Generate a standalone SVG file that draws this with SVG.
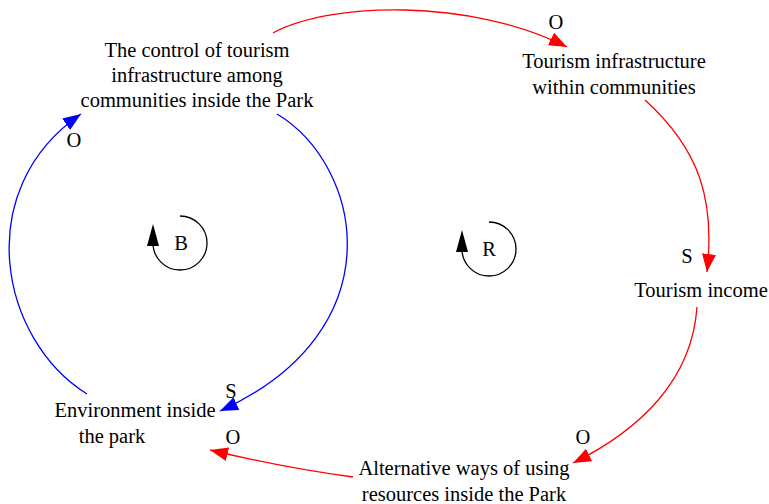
<svg xmlns="http://www.w3.org/2000/svg" width="769" height="504" viewBox="0 0 769 504">
<defs>
<style>
text{font-family:"Liberation Serif","Times New Roman",serif;font-size:20.5px;fill:#000;text-anchor:middle}
.red{fill:none;stroke:#ff0000;stroke-width:1.3}
.blue{fill:none;stroke:#0000ff;stroke-width:1.3}
.loop{fill:none;stroke:#000;stroke-width:1.3}
</style>
<marker id="ar" markerUnits="userSpaceOnUse" markerWidth="20" markerHeight="14" refX="18" refY="7" orient="auto"><path d="M0,0 L18,7 L0,14 Z" fill="#ff0000"/></marker>
<marker id="ab" markerUnits="userSpaceOnUse" markerWidth="20" markerHeight="14" refX="18" refY="7" orient="auto"><path d="M0,0 L18,7 L0,14 Z" fill="#0000ff"/></marker>
</defs>
<rect width="769" height="504" fill="#fff"/>
<g id="connectors">
<path class="red" d="M273,33 C330,2 470,-2 567,47" marker-end="url(#ar)"/>
<path class="red" d="M645,100 C700,150 715,200 707,272" marker-end="url(#ar)"/>
<path class="red" d="M697,307 C692,380 640,430 573,463" marker-end="url(#ar)"/>
<path class="red" d="M353,477 C300,470 260,462 210,450" marker-end="url(#ar)"/>
<path class="blue" d="M277,114 C362,165 398,330 220,411" marker-end="url(#ab)"/>
<path class="blue" d="M87,394 C0,340 -30,190 81,114" marker-end="url(#ab)"/>
</g>
<g id="loopB">
<path class="loop" d="M180,216 A27,27 0 1 1 153,243"/>
<path d="M153,224 L147,246 L159,246 Z" fill="#000"/>
<text x="181" y="250">B</text>
</g>
<g id="loopR">
<path class="loop" d="M489,222 A27,27 0 1 1 462,249"/>
<path d="M462,230 L456,252 L468,252 Z" fill="#000"/>
<text x="489" y="256">R</text>
</g>
<g id="n1"><text x="197" y="57">The control of tourism</text><text x="197" y="82">infrastructure among</text><text x="197" y="107">communities inside the Park</text></g>
<g id="n2"><text x="614" y="68">Tourism infrastructure</text><text x="614" y="94">within communities</text></g>
<g id="n3"><text x="701" y="297">Tourism income</text></g>
<g id="n4"><text x="464" y="475">Alternative ways of using</text><text x="464" y="501">resources inside the Park</text></g>
<g id="n5"><text x="135" y="417">Environment inside</text><text x="112" y="443">the park</text></g>
<g id="labels">
<text x="556" y="29">O</text>
<text x="74" y="147">O</text>
<text x="231" y="398">S</text>
<text x="233" y="444">O</text>
<text x="583" y="444">O</text>
<text x="687" y="263">S</text>
</g>
</svg>
